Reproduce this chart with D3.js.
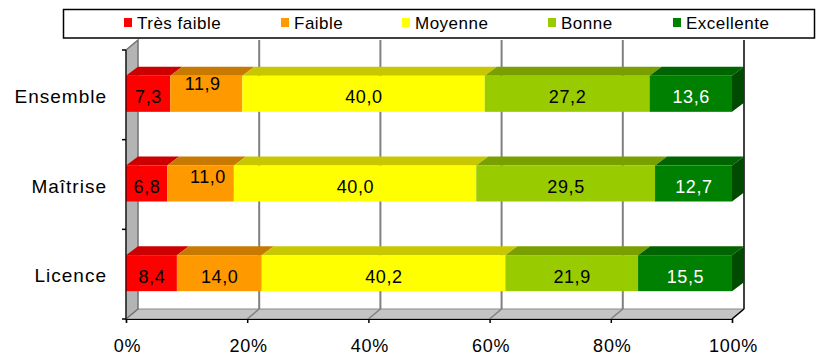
<!DOCTYPE html>
<html>
<head>
<meta charset="utf-8">
<script src="https://cdn.jsdelivr.net/npm/d3@7/dist/d3.min.js"></script>
<style>
html,body{margin:0;padding:0;background:#fff;}
svg{display:block;font-family:"Liberation Sans",Arial,sans-serif;}
</style>
</head>
<body>
<svg id="chart" width="816" height="364"></svg>
<script>
// ---- data ----
const categories = ["Ensemble", "Maîtrise", "Licence"];
const seriesNames = ["Très faible", "Faible", "Moyenne", "Bonne", "Excellente"];
const tresFaible = [7.3, 6.8, 8.4];
const faible = [11.9, 11.0, 14.0];
const moyenne = [40.0, 40.0, 40.2];
const bonne = [27.2, 29.5, 21.9];
const excellente = [13.6, 12.7, 15.5];
const tickValues = [0, 20, 40, 60, 80, 100];
const tickLabels = ["0%", "20%", "40%", "60%", "80%", "100%"];

const seriesValues = [tresFaible, faible, moyenne, bonne, excellente];

// ---- styles ----
const frontColors = ["#FF0000", "#FF9900", "#FFFF00", "#99CC00", "#008000"];
const topColors = ["#CC0000", "#C87A00", "#C8C800", "#7AA000", "#006400"];
const sideColors = ["#990000", "#995C00", "#999900", "#5C7A00", "#004B00"];
const labelColors = ["#000", "#000", "#000", "#000", "#fff"];
// small label nudges (as in the original rendering)
const labelNudge = {"Ensemble|Faible": [-4, -13], "Maîtrise|Faible": [7, -10]};

const svg = d3.select("#chart");
const DX = 12, DY = 10;      // wall depth
const BDX = 12, BDY = 9;     // bar depth
const x = d3.scaleLinear().domain([0, 100]).range([126, 732]);
const y = d3.scaleBand().domain(categories).range([50, 319]);
const barH = 36;
const yTop = 50, yBot = 319;

const comma = v => d3.format(".1f")(v).replace(".", ",");

// back wall
svg.append("rect").attr("x", x(0) + DX).attr("y", yTop - DY)
  .attr("width", x(100) - x(0)).attr("height", yBot - yTop).attr("fill", "#fff");

// floor
svg.append("polygon")
  .attr("points", [[x(0), yBot], [x(0) + DX, yBot - DY], [x(100) + DX, yBot - DY], [x(100), yBot]].join(" "))
  .attr("fill", "#C4C4C4").attr("stroke", "#888").attr("stroke-width", 1);

// gridlines on back wall and floor
tickValues.forEach(v => {
  if (v === 0) return;
  const col = v === 100 ? "#000" : "#808080";
  svg.append("line").attr("x1", x(v) + DX).attr("x2", x(v) + DX)
    .attr("y1", yTop - DY).attr("y2", yBot - DY)
    .attr("stroke", col).attr("stroke-width", v === 100 ? 1.5 : 2);
  svg.append("line").attr("x1", x(v) + DX).attr("y1", yBot - DY)
    .attr("x2", x(v)).attr("y2", yBot)
    .attr("stroke", col).attr("stroke-width", 1.5);
});

// left wall
svg.append("polygon")
  .attr("points", [[x(0), yTop], [x(0) + DX, yTop - DY], [x(0) + DX, yBot - DY], [x(0), yBot]].join(" "))
  .attr("fill", "#B4B4B4").attr("stroke", "#707070").attr("stroke-width", 1.5);

// bars
categories.forEach((c, ci) => {
  const yb = y(c) + y.bandwidth() / 2 - barH / 2 - 1;
  let cum = 0;
  seriesValues.forEach((vals, si) => {
    const v = vals[ci];
    const x0 = x(cum), x1 = x(cum + v);
    cum += v;
    const g = svg.append("g");
    g.append("polygon")
      .attr("points", [[x0, yb], [x0 + BDX, yb - BDY], [x1 + BDX, yb - BDY], [x1, yb]].join(" "))
      .attr("fill", topColors[si]);
    g.append("rect").attr("x", x0).attr("y", yb).attr("width", x1 - x0).attr("height", barH)
      .attr("fill", frontColors[si]);
    if (si === seriesValues.length - 1) {
      g.append("polygon")
        .attr("points", [[x1, yb], [x1 + BDX, yb - BDY], [x1 + BDX, yb - BDY + barH], [x1, yb + barH]].join(" "))
        .attr("fill", sideColors[si]);
    }
  });
});

// value labels
categories.forEach((c, ci) => {
  const yc = y(c) + y.bandwidth() / 2 - 1;
  let cum = 0;
  seriesValues.forEach((vals, si) => {
    const v = vals[ci];
    const mid = cum + v / 2;
    cum += v;
    const n = labelNudge[c + "|" + seriesNames[si]] || [0, 0];
    svg.append("text")
      .attr("x", x(mid) + n[0] + 0.4).attr("y", yc + 9.5 + n[1])
      .attr("text-anchor", "middle")
      .attr("font-size", "18px").attr("letter-spacing", "0.6px")
      .attr("fill", labelColors[si])
      .text(comma(v));
  });
});

// category axis (front-left edge)
const yAxisG = svg.append("g");
yAxisG.append("line").attr("x1", x(0)).attr("x2", x(0)).attr("y1", yTop).attr("y2", yBot)
  .attr("stroke", "#000").attr("stroke-width", 1);
[yTop].concat(categories.map(c => y(c) + y.bandwidth())).forEach(t => {
  yAxisG.append("line").attr("x1", x(0) - 4).attr("x2", x(0)).attr("y1", t).attr("y2", t)
    .attr("stroke", "#000").attr("stroke-width", 1.5);
});
categories.forEach(c => {
  yAxisG.append("text").attr("x", 107).attr("y", y(c) + y.bandwidth() / 2 + 8)
    .attr("text-anchor", "end").attr("font-size", "19px").attr("letter-spacing", "1px")
    .attr("fill", "#000").text(c);
});

// value axis (front bottom edge)
const xAxis = d3.axisBottom(x).tickValues(tickValues).tickSize(4)
  .tickFormat((d, i) => tickLabels[i]);
const xg = svg.append("g").attr("transform", `translate(0,${yBot})`).call(xAxis);
xg.select(".domain").attr("stroke", "#000").attr("stroke-width", 1.2);
xg.selectAll(".tick line").attr("stroke", "#000").attr("stroke-width", 1.5);
xg.selectAll(".tick text").attr("font-size", "18px").attr("font-family", "Liberation Sans, Arial, sans-serif")
  .attr("fill", "#000").attr("letter-spacing", "0.8px").attr("y", 24).attr("dy", "0.71em")
  .attr("transform", "translate(1,-4)");

// legend
const lg = svg.append("g");
lg.append("rect").attr("x", 63.5).attr("y", 9.5).attr("width", 751).attr("height", 28.5)
  .attr("fill", "#fff").attr("stroke", "#000").attr("stroke-width", 1.5);
const legendX = [124, 281, 402, 548, 673];
seriesNames.forEach((s, i) => {
  lg.append("rect").attr("x", legendX[i]).attr("y", 18).attr("width", 8).attr("height", 9)
    .attr("fill", frontColors[i]);
  lg.append("text").attr("x", legendX[i] + 13).attr("y", 29)
    .attr("font-size", "17px").attr("letter-spacing", "0.5px").attr("fill", "#000").text(s);
});
</script>
</body>
</html>
